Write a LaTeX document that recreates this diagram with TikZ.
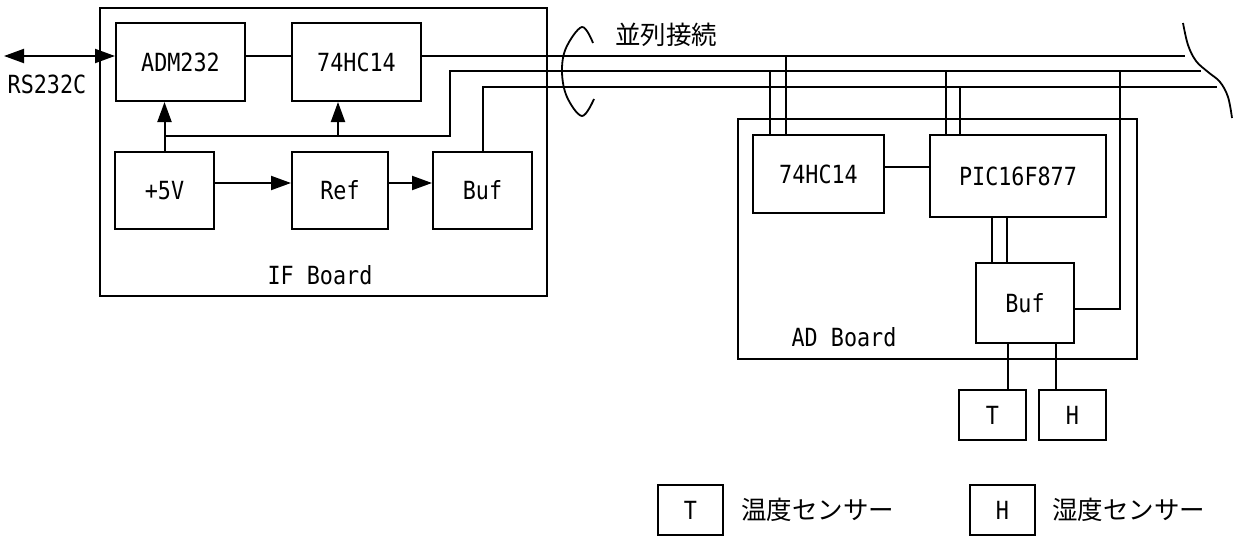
\documentclass[tikz,border=0pt]{standalone}
\usepackage{fontspec}
\newfontfamily\lab[FakeStretch=0.87]{DejaVu Sans Mono}
\newfontfamily\cjk{Noto Sans CJK JP}
\usetikzlibrary{arrows.meta}
\begin{document}
\begin{tikzpicture}[x=1pt,y=-1pt,
  ln/.style={line width=2pt},
  blk/.style={draw, line width=2pt, inner sep=0pt, font=\lab\fontsize{25pt}{27pt}\selectfont},
  txt/.style={inner sep=0pt, font=\lab\fontsize{25pt}{27pt}\selectfont},
  jtxt/.style={inner sep=0pt, font=\cjk\fontsize{25.5pt}{27pt}\selectfont},
  tip/.tip={Triangle[length=20pt,width=14pt]},
  arr/.style={line width=2pt,-tip}
]
\useasboundingbox (0,0) rectangle (1234,536);

% boards
\node[blk, minimum width=447pt, minimum height=288pt] (ifb) at (323.5,152) {};
\node[blk, minimum width=399pt, minimum height=240pt] (adb) at (937.5,239) {};
\node[txt] (ifl) at (320,275) {IF Board};
\node[txt] (adl) at (844,337) {AD Board};

% IF board blocks
\node[blk, minimum width=129pt, minimum height=78pt] (adm) at (180.5,62) {ADM232};
\node[blk, minimum width=129pt, minimum height=78pt] (hc1) at (356.5,62) {74HC14};
\node[blk, minimum width=99pt, minimum height=77pt] (p5) at (164.5,190.5) {+5V};
\node[blk, minimum width=96pt, minimum height=77pt] (ref) at (340,190.5) {Ref};
\node[blk, minimum width=99pt, minimum height=77pt] (buf1) at (482.5,190.5) {Buf};

% AD board blocks
\node[blk, minimum width=131pt, minimum height=78pt] (hc2) at (818.5,174) {74HC14};
\node[blk, minimum width=176pt, minimum height=82pt] (pic) at (1018,176) {PIC16F877};
\node[blk, minimum width=98pt, minimum height=80pt] (buf2) at (1025,303) {Buf};
\node[blk, minimum width=67pt, minimum height=50pt] (tb) at (992.5,415) {T};
\node[blk, minimum width=67pt, minimum height=50pt] (hb) at (1072.5,415) {H};

% labels
\node[txt] (rsl) at (47,84) {RS232C};
\node[jtxt] (par) at (666,35) {並列接続};

% legend
\node[blk, minimum width=65pt, minimum height=50pt] (lt) at (690.5,510) {T};
\node[jtxt, anchor=west] (ltt) at (741,510) {温度センサー};
\node[blk, minimum width=65pt, minimum height=50pt] (lh) at (1002.5,510) {H};
\node[jtxt, anchor=west] (lht) at (1052,510) {湿度センサー};

% coordinates
\coordinate (rs) at (4,56);
\coordinate (e1) at (1185,56);
\coordinate (e2) at (1201,71);
\coordinate (e3) at (1217,87);
\coordinate (pw) at (450,136);
\coordinate (tap) at (338,136);
\coordinate (ya) at (0,183);
\coordinate (yc) at (0,167);
\coordinate (yb) at (0,309);
\coordinate (rb) at (1120,309);

% RS232C
\draw[line width=2pt, tip-tip] (rs) -- (rs -| adm.west);
\draw[ln] (rs -| adm.east) -- (rs -| hc1.west);

% bus lines
\draw[ln] (rs -| hc1.east) -- (e1);
\draw[arr] (p5.north) -- (p5.north |- adm.south);
\draw[ln] (p5.north |- pw) -- (pw) -- (pw |- e2) -- (e2);
\draw[arr] (tap) -- (tap |- hc1.south);
\draw[ln] (buf1.north) -- (buf1.north |- e3) -- (e3);
\draw[arr] (ya -| p5.east) -- (ya -| ref.west);
\draw[arr] (ya -| ref.east) -- (ya -| buf1.west);

% AD board connections
\coordinate (t1) at (770,0);
\coordinate (t2) at (786,0);
\coordinate (t3) at (946,0);
\coordinate (t4) at (960,0);
\draw[ln] (t1 |- e2) -- (t1 |- hc2.north);
\draw[ln] (t2 |- e1) -- (t2 |- hc2.north);
\draw[ln] (t3 |- e2) -- (t3 |- pic.north);
\draw[ln] (t4 |- e3) -- (t4 |- pic.north);
\draw[ln] (yc -| hc2.east) -- (yc -| pic.west);
\coordinate (t5) at (992,0);
\coordinate (t6) at (1007,0);
\draw[ln] (t5 |- pic.south) -- (t5 |- buf2.north);
\draw[ln] (t6 |- pic.south) -- (t6 |- buf2.north);
\draw[ln] (yb -| buf2.east) -- (rb) -- (rb |- e2);
\coordinate (t7) at (1008,0);
\coordinate (t8) at (1056,0);
\draw[ln] (t7 |- buf2.south) -- (t7 |- tb.north);
\draw[ln] (t8 |- buf2.south) -- (t8 |- hb.north);

% brace and break marks
\draw[line width=1.8pt] plot[smooth, tension=0.6] coordinates {(593,43) (582,27) (566,48) (562,72) (567,97) (582,116) (594,99)};
\draw[line width=1.8pt] plot[smooth, tension=0.6] coordinates {(1183,23) (1188,45) (1196,61) (1208,72) (1220,82) (1228,97) (1232,118)};
\end{tikzpicture}
\end{document}
